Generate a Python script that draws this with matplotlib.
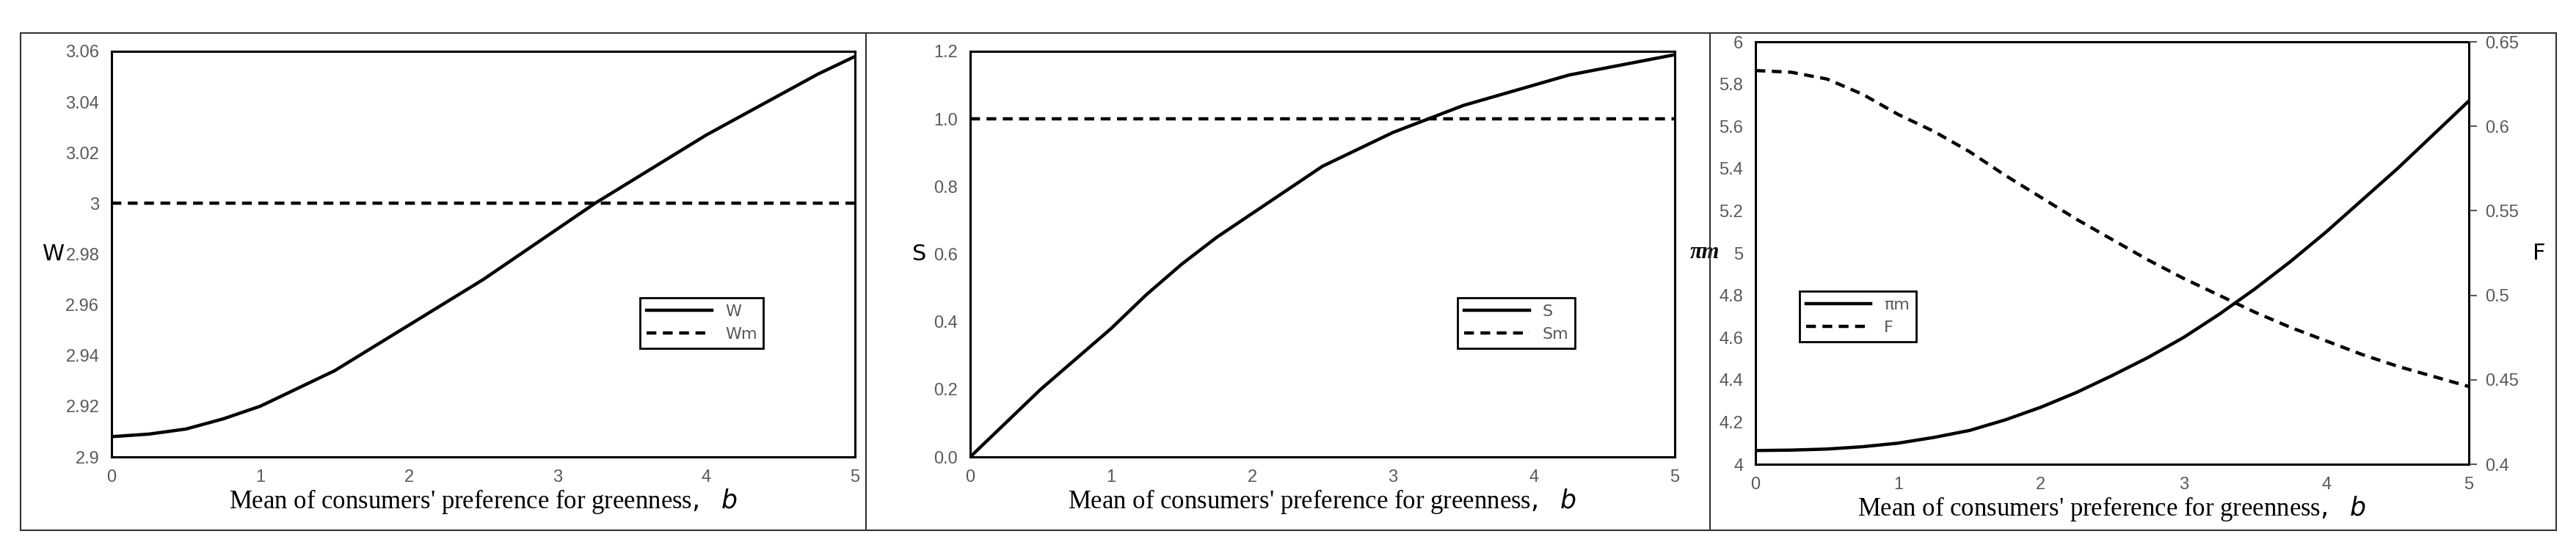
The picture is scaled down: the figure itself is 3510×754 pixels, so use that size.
import matplotlib
matplotlib.use("Agg")
import matplotlib.pyplot as plt
from matplotlib.patches import Rectangle

b = [0, 0.25, 0.5, 0.75, 1, 1.25, 1.5, 1.75, 2, 2.25, 2.5, 2.75, 3, 3.25, 3.5, 3.75, 4, 4.25, 4.5, 4.75, 5]
W = [2.908, 2.909, 2.911, 2.915, 2.920, 2.927, 2.934, 2.943, 2.952, 2.961, 2.970, 2.980, 2.990,
     3.000, 3.009, 3.018, 3.027, 3.035, 3.043, 3.051, 3.058]
Wm = [3.0] * len(b)
S = [0.0, 0.10, 0.20, 0.29, 0.38, 0.48, 0.57, 0.65, 0.72, 0.79, 0.86, 0.91, 0.96, 1.00,
     1.04, 1.07, 1.10, 1.13, 1.15, 1.17, 1.19]
Sm = [1.0] * len(b)
PIm = [4.065, 4.067, 4.072, 4.083, 4.10, 4.127, 4.16, 4.21, 4.27, 4.34, 4.42, 4.505, 4.60,
       4.71, 4.83, 4.96, 5.10, 5.25, 5.40, 5.56, 5.72]
F = [0.633, 0.632, 0.628, 0.619, 0.607, 0.597, 0.585, 0.571, 0.558, 0.545, 0.533, 0.521, 0.510,
     0.500, 0.490, 0.481, 0.473, 0.465, 0.458, 0.452, 0.446]

W_ticks = [2.9, 2.92, 2.94, 2.96, 2.98, 3.0, 3.02, 3.04, 3.06]
W_labels = ["2.9", "2.92", "2.94", "2.96", "2.98", "3", "3.02", "3.04", "3.06"]
S_ticks = [0, 0.2, 0.4, 0.6, 0.8, 1.0, 1.2]
S_labels = ["0.0", "0.2", "0.4", "0.6", "0.8", "1.0", "1.2"]
P_ticks = [4, 4.2, 4.4, 4.6, 4.8, 5, 5.2, 5.4, 5.6, 5.8, 6]
P_labels = ["4", "4.2", "4.4", "4.6", "4.8", "5", "5.2", "5.4", "5.6", "5.8", "6"]
F_ticks = [0.4, 0.45, 0.5, 0.55, 0.6, 0.65]
F_labels = ["0.4", "0.45", "0.5", "0.55", "0.6", "0.65"]
x_ticks = [0, 1, 2, 3, 4, 5]

FW, FH = 3510, 754
fig = plt.figure(figsize=(FW/100, FH/100), dpi=100)
fig.patch.set_facecolor("white")

def fx(px): return px / FW
def fy(py): return 1 - py / FH

for x0, x1 in [(28, 1180), (1180, 2330), (2330, 3483)]:
    fig.add_artist(Rectangle((fx(x0), fy(723)), fx(x1) - fx(x0), fy(45) - fy(723),
                             fill=False, edgecolor="#333333", lw=1.5, transform=fig.transFigure))

tickcol = "#595959"
TS = 17
def make_ax(l, r, t, bt):
    ax = fig.add_axes([fx(l), fy(bt), fx(r) - fx(l), fy(t) - fy(bt)])
    for s in ax.spines.values():
        s.set_linewidth(2.2)
        s.set_color("black")
    ax.tick_params(axis="both", labelsize=TS, colors=tickcol, length=0, pad=12)
    ax.set_xlim(0, 5)
    ax.set_xticks(x_ticks)
    ax.set_xticklabels([str(v) for v in x_ticks], color=tickcol, fontfamily="Liberation Sans")
    ax.set_xlabel(r"Mean of consumers' preference for greenness$,\ \ \it{b}$",
                  fontsize=25, fontfamily="Liberation Serif", labelpad=2)
    return ax

lw = 3.2
def style_leg(leg):
    leg.get_frame().set_linewidth(2)
    for t in leg.get_texts(): t.set_color(tickcol)

ax1 = make_ax(152, 1165, 70, 623)
ax1.plot(b, W, color="black", lw=lw, label="W")
ax1.plot(b, Wm, color="black", lw=lw, ls=(0, (3, 2)), label="Wm")
ax1.set_ylim(2.9, 3.06)
ax1.set_yticks(W_ticks)
ax1.set_yticklabels(W_labels, fontfamily="Liberation Sans")
ax1.set_ylabel("W", fontsize=22, rotation=0, labelpad=12, va="center")
style_leg(ax1.legend(loc="center left", bbox_to_anchor=(0.7, 0.33), fontsize=16, fancybox=False,
                     framealpha=1, edgecolor="black", handlelength=4))

ax2 = make_ax(1322, 2282, 70, 623)
ax2.plot(b, S, color="black", lw=lw, label="S")
ax2.plot(b, Sm, color="black", lw=lw, ls=(0, (3, 2)), label="Sm")
ax2.set_ylim(0, 1.2)
ax2.set_yticks(S_ticks)
ax2.set_yticklabels(S_labels, fontfamily="Liberation Sans")
ax2.set_ylabel("S", fontsize=22, rotation=0, labelpad=14, va="center")
style_leg(ax2.legend(loc="center left", bbox_to_anchor=(0.68, 0.33), fontsize=16, fancybox=False,
                     framealpha=1, edgecolor="black", handlelength=4))

ax3 = make_ax(2392, 3364, 57, 633)
l1, = ax3.plot(b, PIm, color="black", lw=lw, label="πm")
ax3.set_ylim(4, 6)
ax3.set_yticks(P_ticks)
ax3.set_yticklabels(P_labels, fontfamily="Liberation Sans")
ax3.set_ylabel("πm", fontsize=22, rotation=0, labelpad=14,
               va="center", fontstyle="italic", fontweight="bold", fontfamily="Liberation Serif")
ax3b = ax3.twinx()
l2, = ax3b.plot(b, F, color="black", lw=lw, ls=(0, (3, 2)), label="F")
ax3b.set_ylim(0.4, 0.65)
ax3b.set_yticks(F_ticks)
ax3b.set_yticklabels(F_labels, fontfamily="Liberation Sans")
ax3b.tick_params(axis="y", labelsize=TS, colors=tickcol, length=8, width=1.5, direction="out", pad=8)
ax3b.set_ylabel("F", fontsize=22, rotation=0, labelpad=20, va="center")
style_leg(ax3.legend(handles=[l1, l2], loc="center left", bbox_to_anchor=(0.05, 0.35), fontsize=16,
                     fancybox=False, framealpha=1, edgecolor="black", handlelength=4))

fig.savefig("out.png", dpi=100)
